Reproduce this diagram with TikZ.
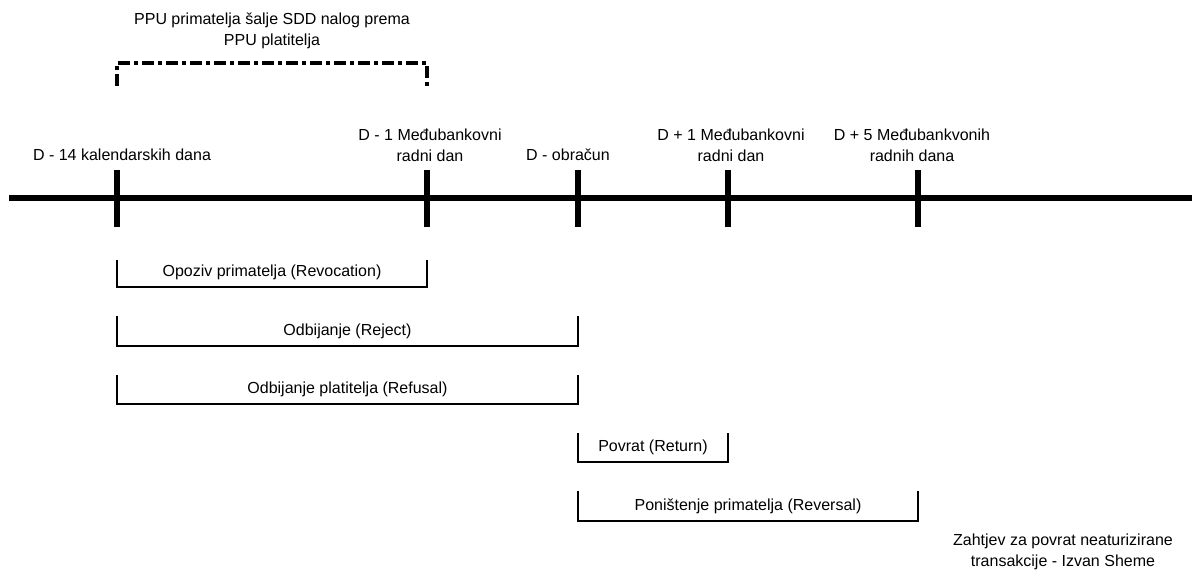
\documentclass[tikz,border=0pt]{standalone}
\usepackage{fontspec}
\setmainfont{Liberation Sans}
\usetikzlibrary{positioning}

\begin{document}
\begin{tikzpicture}[x=0.75pt,y=-0.75pt,
    lbl/.style={align=center,inner sep=0pt,font=\fontsize{12}{15.75}\selectfont},
    daytick/.style={line width=4.5pt},
    span/.style={line width=0.8pt},
    window/.style={line width=3.2pt,dash pattern=on 9pt off 3pt on 3pt off 3pt}]
    \useasboundingbox (0,0) rectangle (1192,574);
    %vremenska os
    \draw[line width=5pt] (9,198) -- (1192,198);
    \foreach \n/\x in {d14/117,d1/427,d0/578,dp1/728,dp5/918}{
        \coordinate (\n) at (\x,198);
        \draw[daytick] (\x,170) -- (\x,227);
    }
    %oznake dana
    \node[lbl] (l14) at (122,155) {D - 14 kalendarskih dana};
    \node[lbl] (l1) at (430,145) {D - 1 Međubankovni\\radni dan};
    \node[lbl] (l0) at (568,155) {D - obračun};
    \node[lbl] (lp1) at (731,145) {D + 1 Međubankovni\\radni dan};
    \node[lbl] (lp5) at (912,145) {D + 5 Međubankvonih\\radnih dana};
    %slanje naloga
    \node[lbl] (ppu) at (272,31) {PPU primatelja šalje SDD nalog prema\\PPU platitelja};
    \coordinate (wtop) at (0,63);
    \coordinate (wbot) at (0,86);
    \draw[window] (d14 |- wbot) -- (d14 |- wtop) -- (d1 |- wtop) -- (d1 |- wbot);
    %rokovi
    \foreach \s/\t/\ya/\yb/\txt [count=\i] in {
        d14/d1/260/287/Opoziv primatelja (Revocation),
        d14/d0/316/346/Odbijanje (Reject),
        d14/d0/375/404/Odbijanje platitelja (Refusal),
        d0/dp1/433/462/Povrat (Return),
        d0/dp5/491/521/Poništenje primatelja (Reversal)}{
        \path (\s) ++(0,\yb-198) coordinate (p\i) (\t) ++(0,\yb-198) coordinate (q\i);
        \draw[span] (p\i) ++(0,\ya-\yb) -- (p\i) -- node[lbl,above=5pt] (s\i) {\txt} (q\i) -- ++(0,\ya-\yb);
    }
    \node[lbl] (izvan) at (1063,552) {Zahtjev za povrat neaturizirane\\transakcije - Izvan Sheme};
\end{tikzpicture}
\end{document}
